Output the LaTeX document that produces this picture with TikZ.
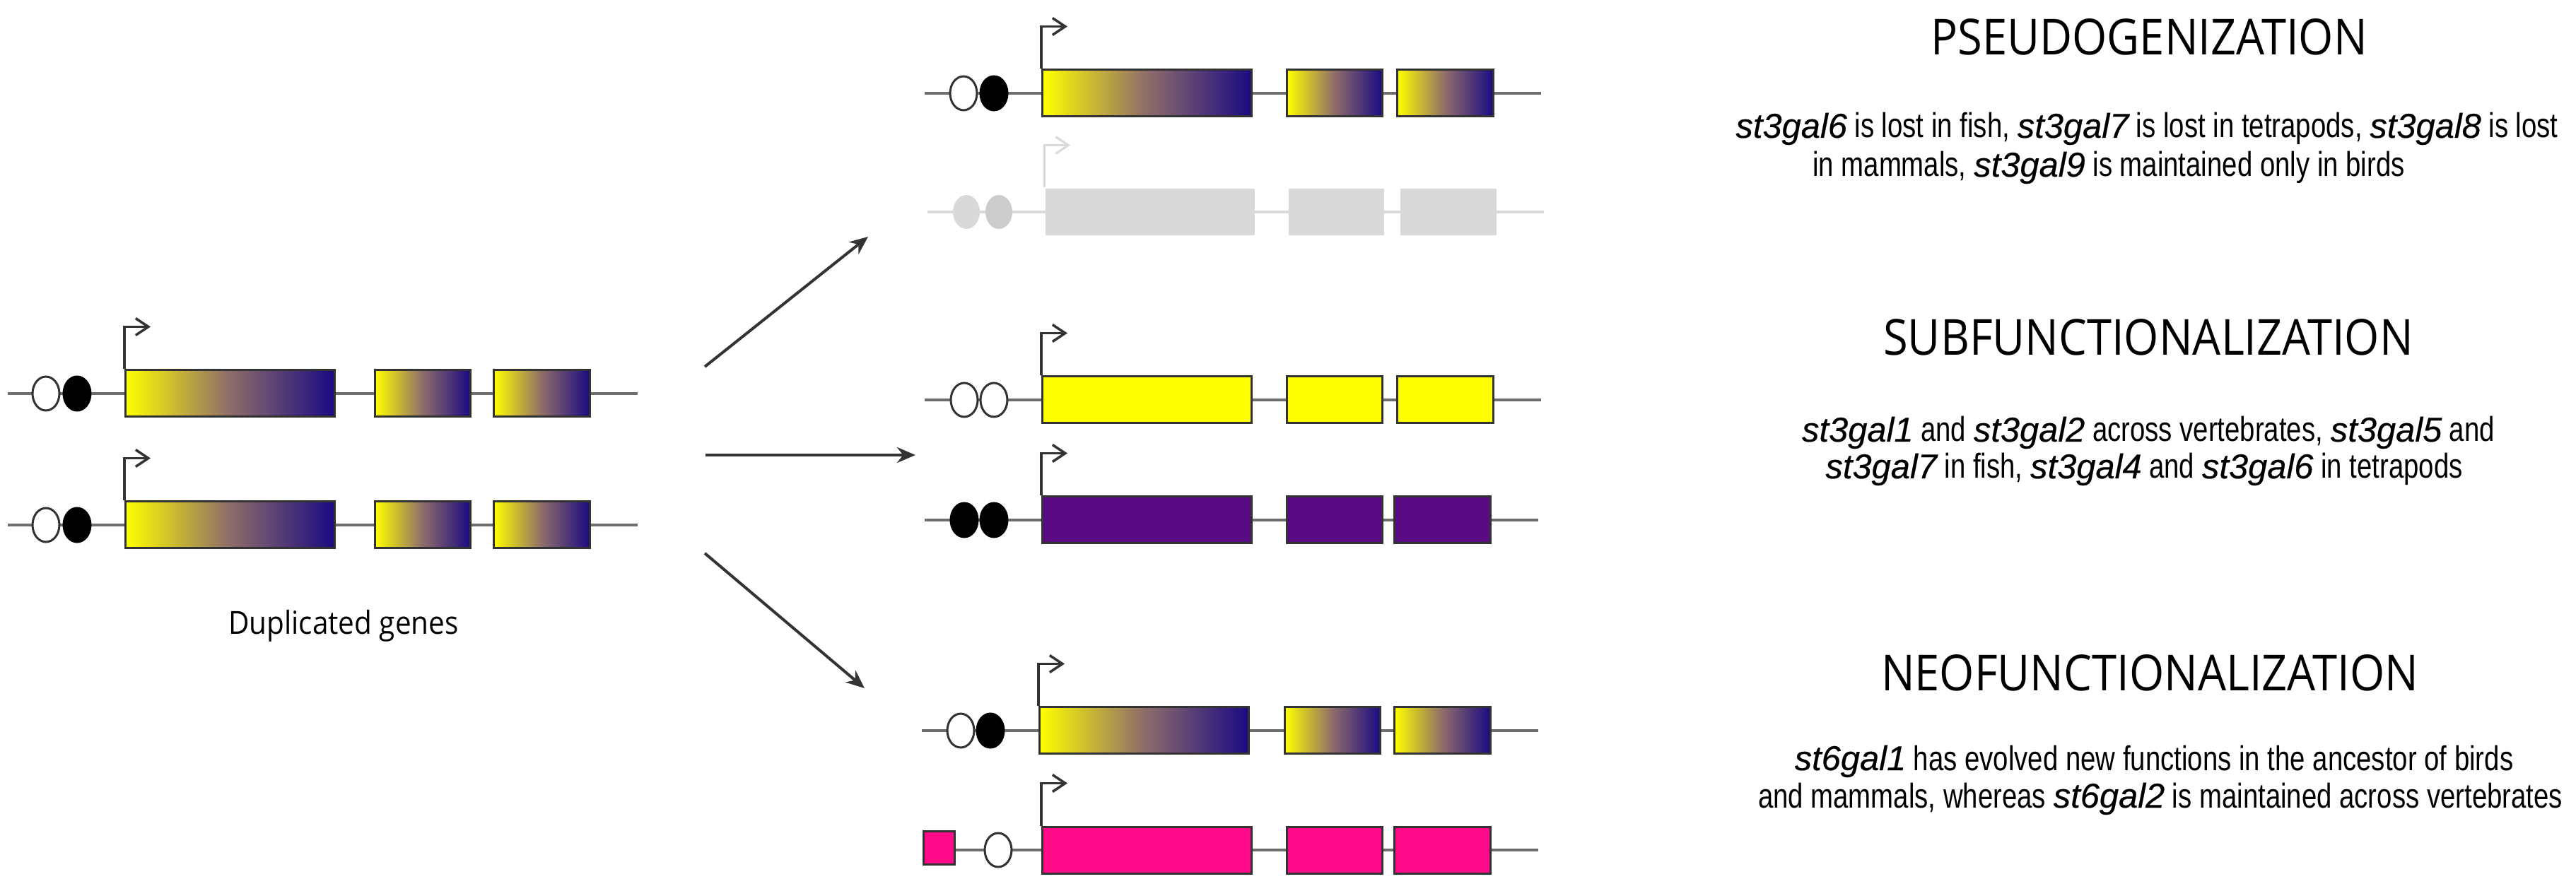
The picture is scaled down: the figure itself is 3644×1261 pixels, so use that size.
\documentclass[tikz,border=0pt]{standalone}
\usepackage{fontspec}
\setmainfont{Liberation Sans}
\newfontfamily\headfont[FakeStretch=0.9]{Open Sans}
\newfontfamily\descfont[FakeStretch=0.785]{Liberation Sans}
\newfontfamily\genefont[FakeBold=0.4]{Liberation Sans}
\usetikzlibrary{arrows.meta,shapes.geometric,positioning}

\definecolor{geneyellow}{HTML}{FFFF00}
\definecolor{genemauve}{HTML}{8E6C6A}
\definecolor{genenavy}{HTML}{1A0A82}
\definecolor{subpurple}{HTML}{5A0A82}
\definecolor{neopink}{HTML}{FF0A88}
\definecolor{lostgray}{HTML}{D9D9D9}
\definecolor{dnagray}{HTML}{6E6E6E}
\definecolor{edgegray}{HTML}{333333}

\newcommand{\gn}[1]{{\genefont\itshape #1}}

\tikzset{
	dna/.style={draw=dnagray, line width=0.45mm},
	tss/.style={draw=edgegray, line width=0.35mm, -{Straight Barb[length=1.8mm,width=2.4mm]}},
	exon/.style={rectangle, draw=edgegray, line width=0.3mm, minimum height=6.6mm, inner sep=0pt, anchor=west},
	mixed/.style={exon, left color=geneyellow, right color=genenavy, middle color=genemauve},
	yellowex/.style={exon, fill=geneyellow},
	purpleex/.style={exon, fill=subpurple},
	pinkex/.style={exon, fill=neopink},
	lostex/.style={exon, fill=lostgray, draw=none},
	cre/.style={ellipse, minimum width=3.8mm, minimum height=4.8mm, inner sep=0pt, line width=0.3mm, draw=edgegray},
	open/.style={cre, fill=white},
	shut/.style={cre, fill=black, draw=black},
	ghost/.style={cre, fill=lostgray, draw=none},
	fate/.style={draw=edgegray, line width=0.4mm, -{Stealth[length=2.6mm,width=2.2mm]}},
	title/.style={font=\headfont\fontsize{20}{24}\selectfont, anchor=base, inner sep=0pt},
	desc/.style={font=\descfont\fontsize{13.9}{16}\selectfont, anchor=base, inner sep=0pt}
}

% name, y, x of the three exons, exon style
\newcommand{\gene}[6]{%
	\draw[dna] (#3-165,#2) -- (#5+205,#2);
	\node[#6, minimum width=29.6mm] (#1a) at (#3,#2) {};
	\node[#6, minimum width=13.5mm] (#1b) at (#4,#2) {};
	\node[#6, minimum width=13.6mm] (#1c) at (#5,#2) {};
	\draw[tss] (#1a.north west) |- ++(37,-60);
}

\begin{document}
\begin{tikzpicture}[x=0.1mm, y=-0.1mm]
	\useasboundingbox (0,0) rectangle (3644,1261);

	\gene{dupA}{557}{176}{529}{697}{mixed}
	\node[open] (dupAo) at (65,557) {};
	\node[shut] (dupAf) at (109,557) {};
	\gene{dupB}{743}{176}{529}{697}{mixed}
	\node[open] (dupBo) at (65,743) {};
	\node[shut] (dupBf) at (109,743) {};
	\node[font=\headfont\fontsize{12.8}{15}\selectfont, anchor=base, inner sep=0pt] (dupl) at (486,898) {Duplicated genes};

	\coordinate (fromup) at (997,519);
	\coordinate (toup) at (1228,335);
	\coordinate (frommid) at (998,644);
	\coordinate (tomid) at (1295,644);
	\coordinate (fromlow) at (997,783);
	\coordinate (tolow) at (1223,974);
	\draw[fate] (fromup) -- (toup);
	\draw[fate] (frommid) -- (tomid);
	\draw[fate] (fromlow) -- (tolow);

	\gene{pseA}{132}{1473}{1819}{1975}{mixed}
	\node[open] (pseAo) at (1363,132) {};
	\node[shut] (pseAf) at (1406,132) {};
	\begin{scope}[dna/.style={draw=lostgray, line width=0.4mm}, tss/.append style={draw=lostgray, line width=0.3mm}]
		\gene{pseB}{300}{1477}{1821}{1979}{lostex}
		\node[ghost] (pseBo) at (1367,300) {};
		\node[ghost, fill=lostgray!85!gray] (pseBf) at (1413,300) {};
	\end{scope}

	\gene{subA}{566}{1473}{1819}{1975}{yellowex}
	\node[open] (subAo) at (1364,566) {};
	\node[open] (subAf) at (1406,566) {};
	\gene{subB}{736}{1473}{1819}{1971}{purpleex}
	\node[shut] (subBo) at (1364,736) {};
	\node[shut] (subBf) at (1406,736) {};

	\gene{neoA}{1034}{1469}{1816}{1971}{mixed}
	\node[open] (neoAo) at (1359,1034) {};
	\node[shut] (neoAf) at (1401,1034) {};
	\gene{neoB}{1203}{1473}{1819}{1971}{pinkex}
	\node[pinkex, anchor=center, minimum width=4.4mm, minimum height=4.7mm] (neoBp) at (1328,1200) {};
	\node[open] (neoBo) at (1412,1203) {};

	\node[title] (pseT) at (3040,78) {PSEUDOGENIZATION};
	\node[desc] (pse1) at (3037,195) {\gn{st3gal6} is lost in fish, \gn{st3gal7} is lost in tetrapods, \gn{st3gal8} is lost};
	\node[desc] (pse2) at (2983,250) {in mammals, \gn{st3gal9} is maintained only in birds};

	\node[title] (subT) at (3039,503) {SUBFUNCTIONALIZATION};
	\node[desc] (sub1) at (3039,625) {\gn{st3gal1} and \gn{st3gal2} across vertebrates, \gn{st3gal5} and};
	\node[desc] (sub2) at (3033,677) {\gn{st3gal7} in fish, \gn{st3gal4} and \gn{st3gal6} in tetrapods};

	\node[title] (neoT) at (3041,978) {NEOFUNCTIONALIZATION};
	\node[desc] (neo1) at (3047,1090) {\gn{st6gal1} has evolved new functions in the ancestor of birds};
	\node[desc] (neo2) at (3056,1143) {and mammals, whereas \gn{st6gal2} is maintained across vertebrates};
\end{tikzpicture}
\end{document}
